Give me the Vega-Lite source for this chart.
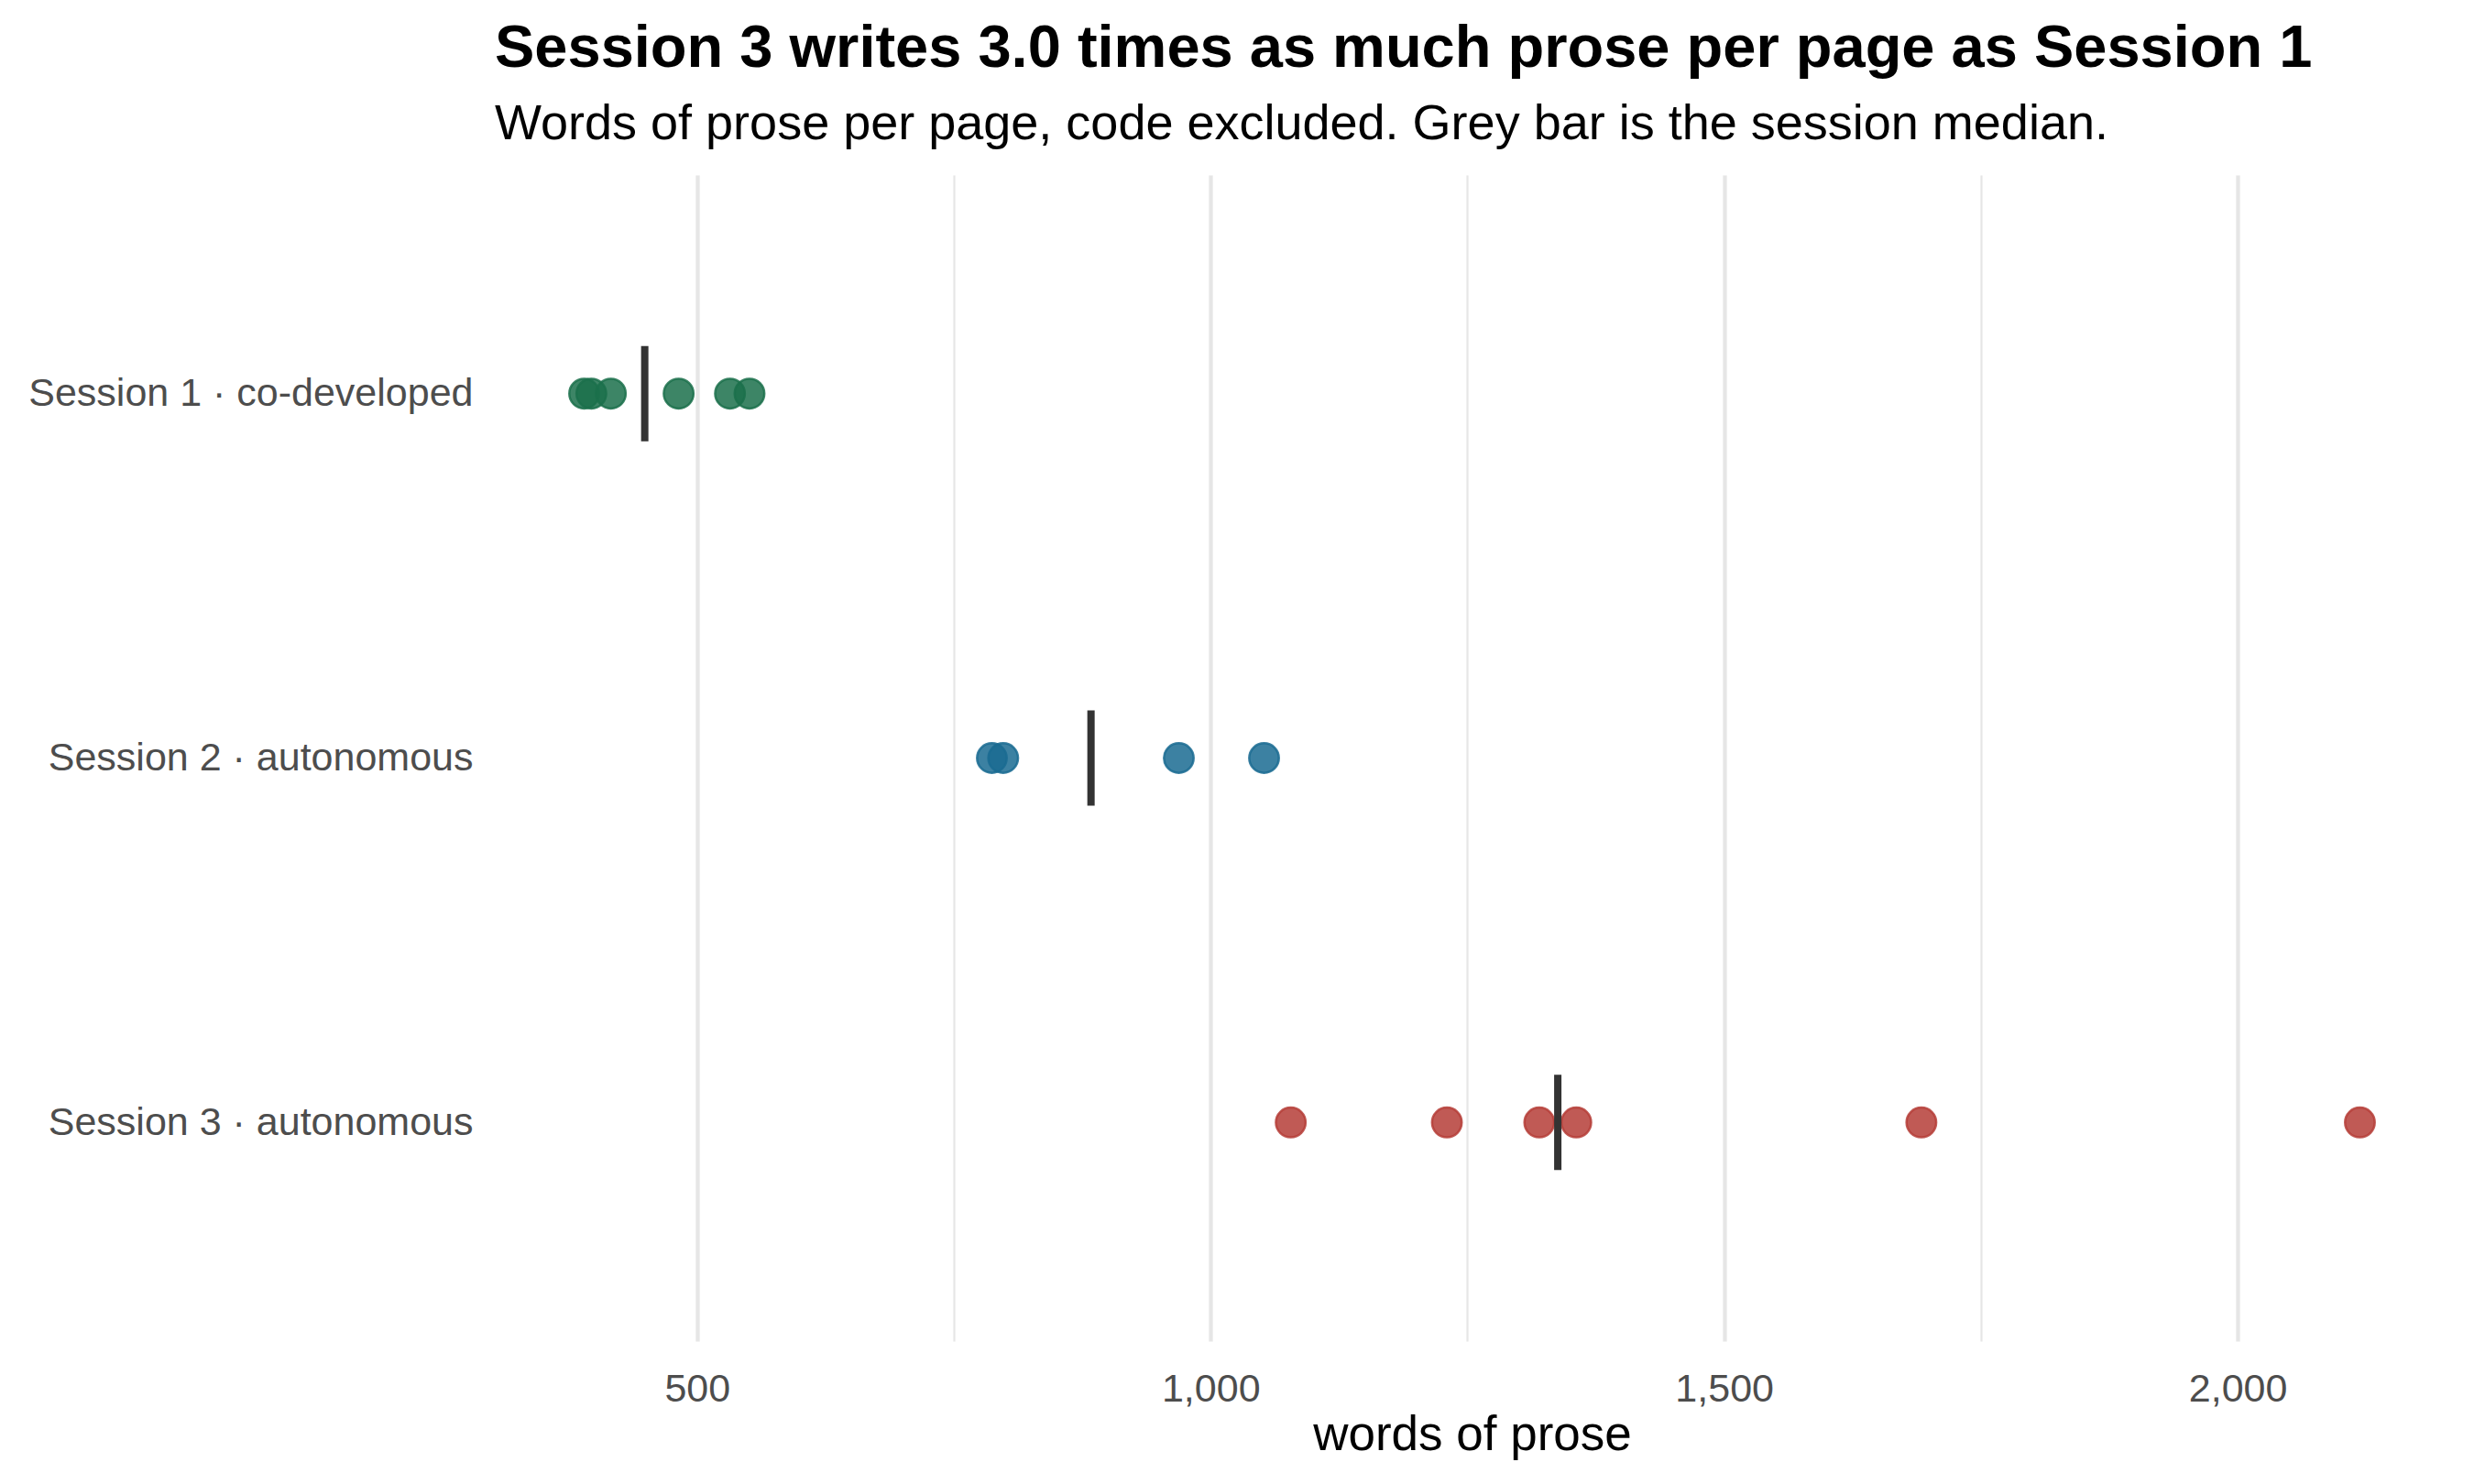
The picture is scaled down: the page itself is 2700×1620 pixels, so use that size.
{
  "$schema": "https://vega.github.io/schema/vega-lite/v6.json",
  "width": 2133,
  "height": 1273,
  "autosize": {"type": "none"},
  "padding": {"left": 540, "top": 191, "right": 27, "bottom": 156},
  "background": "white",
  "title": {
    "text": "Session 3 writes 3.0 times as much prose per page as Session 1",
    "subtitle": "Words of prose per page, code excluded. Grey bar is the session median.",
    "anchor": "start",
    "frame": "group",
    "offset": 27,
    "subtitlePadding": 22,
    "font": "Liberation Sans",
    "fontSize": 65,
    "fontWeight": "bold",
    "color": "black",
    "subtitleFont": "Liberation Sans",
    "subtitleFontSize": 54,
    "subtitleColor": "black"
  },
  "data": {
    "values": [
      {"session": "Session 1 · co-developed", "words": 390},
      {"session": "Session 1 · co-developed", "words": 397},
      {"session": "Session 1 · co-developed", "words": 416},
      {"session": "Session 1 · co-developed", "words": 482},
      {"session": "Session 1 · co-developed", "words": 532},
      {"session": "Session 1 · co-developed", "words": 551},
      {"session": "Session 2 · autonomous", "words": 787},
      {"session": "Session 2 · autonomous", "words": 798},
      {"session": "Session 2 · autonomous", "words": 969},
      {"session": "Session 2 · autonomous", "words": 1052},
      {"session": "Session 3 · autonomous", "words": 1078},
      {"session": "Session 3 · autonomous", "words": 1230},
      {"session": "Session 3 · autonomous", "words": 1320},
      {"session": "Session 3 · autonomous", "words": 1356},
      {"session": "Session 3 · autonomous", "words": 1692},
      {"session": "Session 3 · autonomous", "words": 2119}
    ]
  },
  "encoding": {
    "y": {
      "field": "session",
      "type": "nominal",
      "sort": ["Session 1 · co-developed", "Session 2 · autonomous", "Session 3 · autonomous"],
      "scale": {"type": "point", "padding": 0.6},
      "axis": {
        "title": null,
        "domain": false,
        "ticks": false,
        "grid": false,
        "labelPadding": 24,
        "labelLimit": 0,
        "labelFont": "Liberation Sans",
        "labelFontSize": 43,
        "labelColor": "#4d4d4d"
      }
    },
    "x": {
      "field": "words",
      "type": "quantitative",
      "scale": {"domain": [303, 2206], "nice": false, "zero": false},
      "axis": {
        "title": "words of prose",
        "values": [500, 750, 1000, 1250, 1500, 1750, 2000],
        "labelExpr": "datum.value % 500 === 0 ? format(datum.value, ',') : ''",
        "domain": false,
        "ticks": false,
        "grid": true,
        "gridColor": "#e6e6e6",
        "gridWidth": {"condition": {"test": "datum.value % 500 === 0", "value": 4.3}, "value": 2.2},
        "labelPadding": 31,
        "labelFont": "Liberation Sans",
        "labelFontSize": 43,
        "labelColor": "#4d4d4d",
        "titleFont": "Liberation Sans",
        "titleFontSize": 53,
        "titleFontWeight": "normal",
        "titleColor": "black",
        "titlePadding": 2
      }
    }
  },
  "layer": [
    {
      "mark": {"type": "point", "filled": true, "size": 1050, "fillOpacity": 0.85, "strokeOpacity": 0.85, "strokeWidth": 2.5},
      "encoding": {
        "fill": {
          "field": "session",
          "type": "nominal",
          "scale": {
            "domain": ["Session 1 · co-developed", "Session 2 · autonomous", "Session 3 · autonomous"],
            "range": ["#1b704b", "#1a6b92", "#b53d37"]
          },
          "legend": null
        },
        "stroke": {
          "field": "session",
          "type": "nominal",
          "scale": {
            "domain": ["Session 1 · co-developed", "Session 2 · autonomous", "Session 3 · autonomous"],
            "range": ["#1b704b", "#1a6b92", "#b53d37"]
          },
          "legend": null
        }
      }
    },
    {
      "mark": {"type": "tick", "color": "#333333", "thickness": 8, "size": 104, "opacity": 1},
      "encoding": {
        "x": {"aggregate": "median", "field": "words", "type": "quantitative"}
      }
    }
  ],
  "config": {
    "view": {"stroke": null}
  }
}
